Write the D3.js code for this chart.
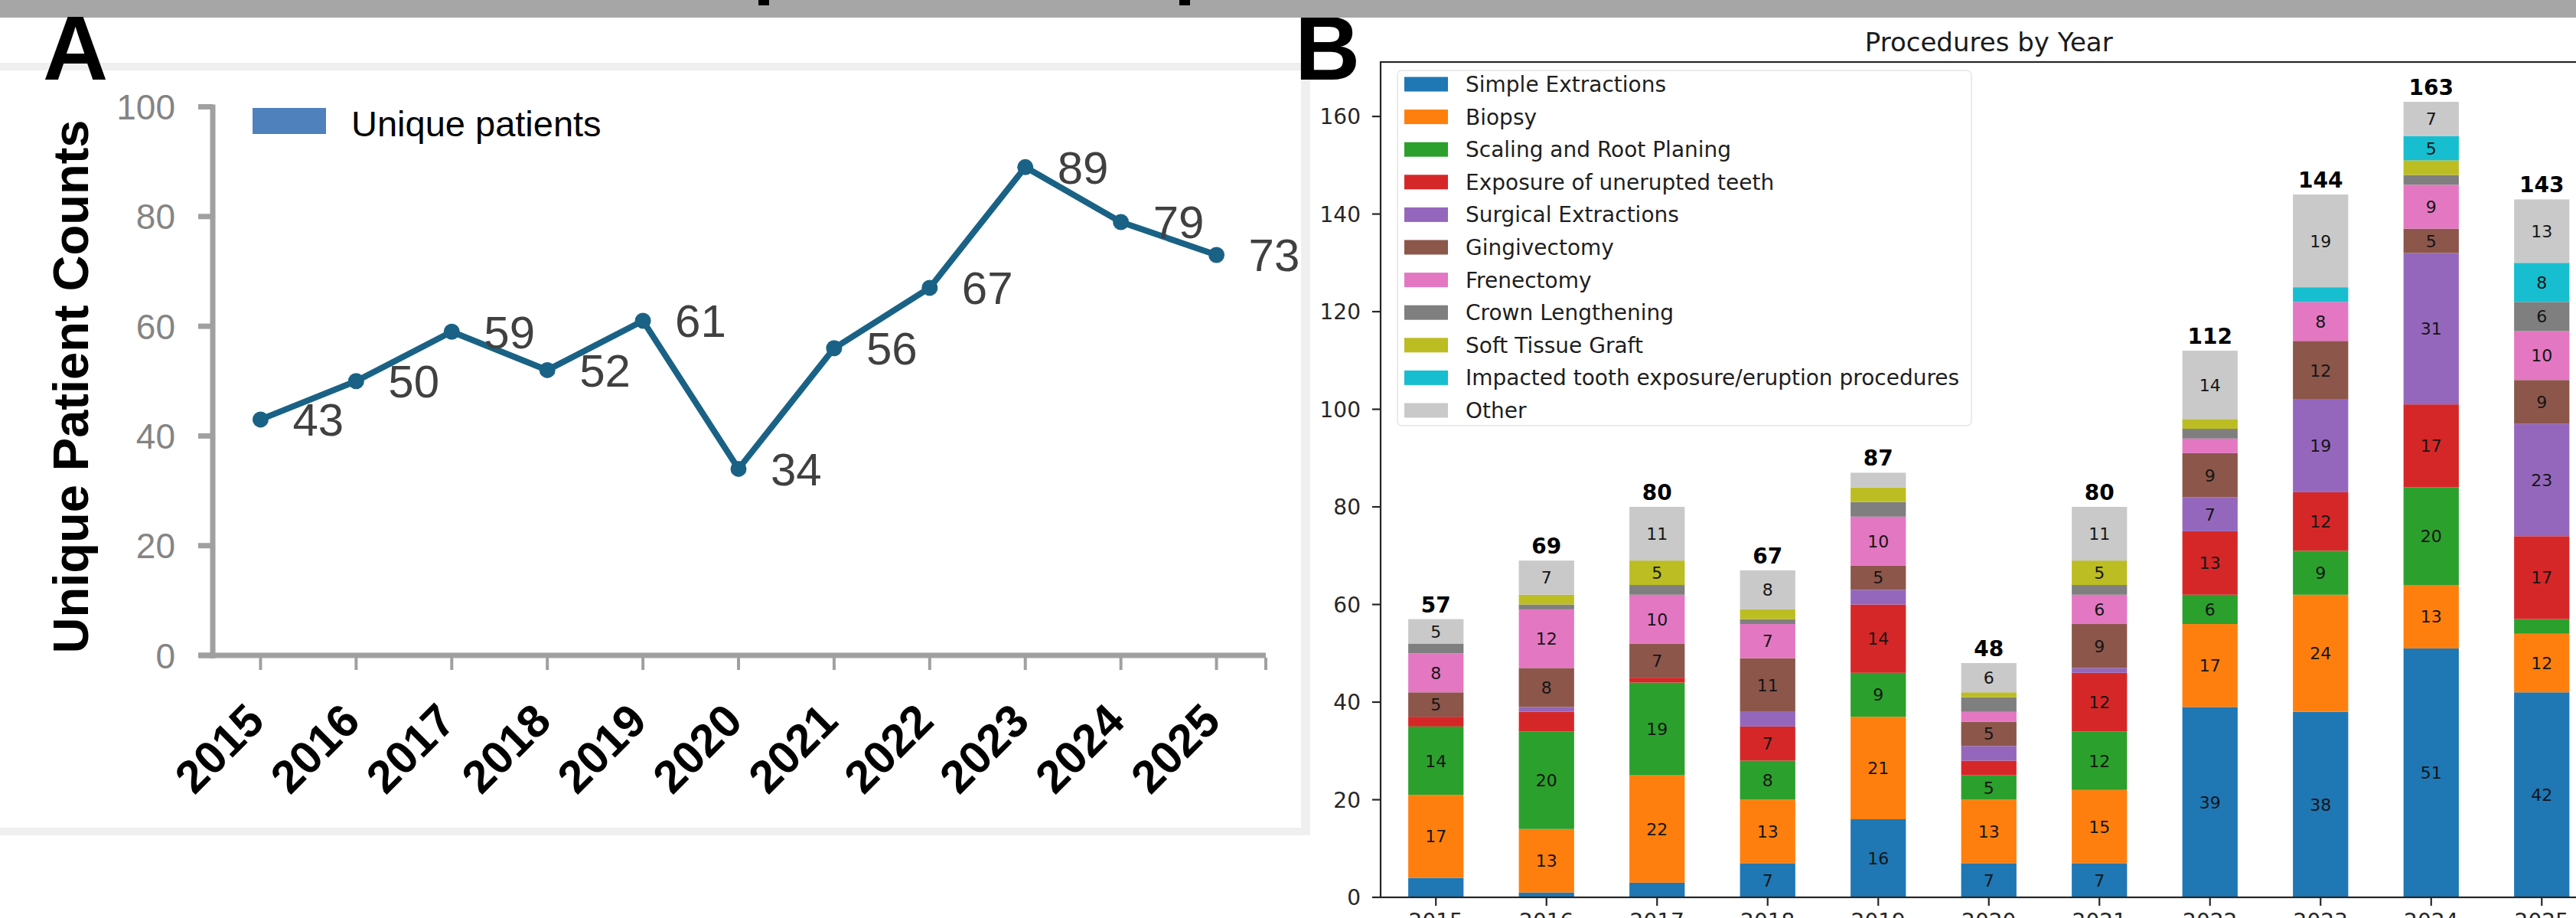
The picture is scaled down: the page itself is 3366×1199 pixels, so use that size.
<!DOCTYPE html>
<html>
<head>
<meta charset="utf-8">
<script src="https://cdn.jsdelivr.net/npm/d3@7"></script>
<style>
  html, body { margin: 0; padding: 0; background: #ffffff; }
  svg { display: block; }
</style>
</head>
<body>
<svg id="fig" width="3366" height="1199"></svg>
<script>
// ---------- data ----------
const years = ["2015", "2016", "2017", "2018", "2019", "2020", "2021", "2022", "2023", "2024", "2025"];

// Panel A: unique patients per year
const uniquePatients = [43, 50, 59, 52, 61, 34, 56, 67, 89, 79, 73];
const patientTicks = [0, 20, 40, 60, 80, 100];

// Panel B: procedures per year, stacked bottom to top
const procedureNames = [
  "Simple Extractions",
  "Biopsy",
  "Scaling and Root Planing",
  "Exposure of unerupted teeth",
  "Surgical Extractions",
  "Gingivectomy",
  "Frenectomy",
  "Crown Lengthening",
  "Soft Tissue Graft",
  "Impacted tooth exposure/eruption procedures",
  "Other"
];
const simpleExtractions   = [4, 1, 3, 7, 16, 7, 7, 39, 38, 51, 42];
const biopsy              = [17, 13, 22, 13, 21, 13, 15, 17, 24, 13, 12];
const scalingRootPlaning  = [14, 20, 19, 8, 9, 5, 12, 6, 9, 20, 3];
const exposureUnerupted   = [2, 4, 1, 7, 14, 3, 12, 13, 12, 17, 17];
const surgicalExtractions = [0, 1, 0, 3, 3, 3, 1, 7, 19, 31, 23];
const gingivectomy        = [5, 8, 7, 11, 5, 5, 9, 9, 12, 5, 9];
const frenectomy          = [8, 12, 10, 7, 10, 2, 6, 3, 8, 9, 10];
const crownLengthening    = [2, 1, 2, 1, 3, 3, 2, 2, 0, 2, 6];
const softTissueGraft     = [0, 2, 5, 2, 3, 1, 5, 2, 0, 3, 0];
const impactedExposure    = [0, 0, 0, 0, 0, 0, 0, 0, 3, 5, 8];
const otherProcedures     = [5, 7, 11, 8, 3, 6, 11, 14, 19, 7, 13];
const procedureTicks = [0, 20, 40, 60, 80, 100, 120, 140, 160];

const procedureSeries = [
  simpleExtractions, biopsy, scalingRootPlaning, exposureUnerupted,
  surgicalExtractions, gingivectomy, frenectomy, crownLengthening,
  softTissueGraft, impactedExposure, otherProcedures
];

// ---------- setup ----------
const W = 3366, H = 1199;
const svg = d3.select("#fig");
const fontA = "'Liberation Sans', Arial, Helvetica, sans-serif";
const fontB = "'DejaVu Sans', sans-serif";

svg.append("rect").attr("width", W).attr("height", H).attr("fill", "#ffffff");

// light frame around panel A
const frameA = svg.append("g").attr("fill", "#efefef");
frameA.append("rect").attr("x", 0).attr("y", 82).attr("width", 1712).attr("height", 10);
frameA.append("rect").attr("x", 0).attr("y", 1081).attr("width", 1712).attr("height", 10);
frameA.append("rect").attr("x", 1700).attr("y", 82).attr("width", 12).attr("height", 1009);

// ---------- Panel A: line chart ----------
const gA = svg.append("g");
const xA = d3.scaleBand().domain(years).range([278, 1652]);
const yA = d3.scaleLinear().domain([0, 100]).range([856, 139.5]);
const cxA = d => xA(d) + xA.bandwidth() / 2;
const axisGray = "#a0a0a0";

// axis lines
gA.append("line")
  .attr("x1", 278).attr("x2", 278)
  .attr("y1", yA(100) - 3).attr("y2", yA(0) + 4)
  .attr("stroke", axisGray).attr("stroke-width", 7);
gA.append("line")
  .attr("x1", 260).attr("x2", xA.range()[1] + 2)
  .attr("y1", yA(0)).attr("y2", yA(0))
  .attr("stroke", axisGray).attr("stroke-width", 7);

// y ticks + labels
gA.selectAll(".ytickA").data(patientTicks).join("rect")
  .attr("x", 259).attr("y", d => yA(d) - 3.5)
  .attr("width", 19).attr("height", 7)
  .attr("fill", axisGray);
gA.selectAll(".ylabA").data(patientTicks).join("text")
  .attr("x", 229).attr("y", d => yA(d) + 16.5)
  .attr("text-anchor", "end")
  .attr("font-family", fontA).attr("font-size", 46)
  .attr("fill", "#848484")
  .text(d => d);

// x ticks (category centres plus the axis end)
const xTickPosA = years.map(cxA).concat([xA.range()[1] + 2]);
gA.selectAll(".xtickA").data(xTickPosA).join("line")
  .attr("x1", d => d).attr("x2", d => d)
  .attr("y1", yA(0) + 3).attr("y2", yA(0) + 19)
  .attr("stroke", axisGray).attr("stroke-width", 4);

// rotated year labels
gA.selectAll(".xlabA").data(years).join("text")
  .attr("transform", d => `translate(${cxA(d) + 8},945) rotate(-45)`)
  .attr("text-anchor", "end")
  .attr("font-family", fontA).attr("font-weight", "bold").attr("font-size", 60)
  .attr("fill", "#000")
  .text(d => d);

// axis title
gA.append("text")
  .attr("transform", "translate(115,505) rotate(-90)")
  .attr("text-anchor", "middle")
  .attr("font-family", fontA).attr("font-weight", "bold").attr("font-size", 65)
  .attr("fill", "#000")
  .text("Unique Patient Counts");

// series line, markers and value labels
const lineColor = "#1a6285";
const patientPoints = years.map((y, i) => ({ year: y, value: uniquePatients[i] }));
gA.append("path")
  .datum(patientPoints)
  .attr("fill", "none")
  .attr("stroke", lineColor).attr("stroke-width", 8)
  .attr("stroke-linejoin", "round")
  .attr("d", d3.line().x(d => cxA(d.year)).y(d => yA(d.value)));
gA.selectAll(".ptA").data(patientPoints).join("circle")
  .attr("cx", d => cxA(d.year)).attr("cy", d => yA(d.value))
  .attr("r", 10.5).attr("fill", lineColor);
gA.selectAll(".vlabA").data(patientPoints).join("text")
  .attr("x", d => cxA(d.year) + 42).attr("y", d => yA(d.value) + 21.5)
  .attr("font-family", fontA).attr("font-size", 60)
  .attr("fill", "#404040")
  .text(d => d.value);

// legend
gA.append("rect").attr("x", 330).attr("y", 141).attr("width", 96).attr("height", 34).attr("fill", "#4f81bd");
gA.append("text")
  .attr("x", 459).attr("y", 178)
  .attr("font-family", fontA).attr("font-size", 47).attr("fill", "#000")
  .text("Unique patients");

// ---------- Panel B: stacked bar chart ----------
const gB = svg.append("g");
const rows = years.map((y, i) => {
  const r = { year: y };
  procedureNames.forEach((name, k) => { r[name] = procedureSeries[k][i]; });
  return r;
});
const totals = rows.map(r => d3.sum(procedureNames, n => r[n]));

const plotLeft = 1804, plotRight = plotLeft + 11 * 144.5, plotBottom = 1172, plotTop = 81;
const xB = d3.scaleBand().domain(years).range([plotLeft, plotRight]).paddingInner(0.5).paddingOuter(0.25);
const yB = d3.scaleLinear().domain([0, d3.max(totals) * 1.05]).range([plotBottom, plotTop]);
const color = d3.scaleOrdinal()
  .domain(procedureNames)
  .range(d3.schemeCategory10.concat(["#c9c9c9"]));

const stacked = d3.stack().keys(procedureNames)(rows);

const layers = gB.selectAll(".layer").data(stacked).join("g")
  .attr("fill", d => color(d.key));
layers.selectAll("rect").data(d => d).join("rect")
  .attr("x", d => xB(d.data.year))
  .attr("width", xB.bandwidth())
  .attr("y", d => yB(d[1]))
  .attr("height", d => yB(d[0]) - yB(d[1]));

// segment value labels (segments of 5 or more)
const segLabels = [];
stacked.forEach(layer => layer.forEach(d => {
  const v = d[1] - d[0];
  if (v >= 5) segLabels.push({ year: d.data.year, mid: (d[0] + d[1]) / 2, v });
}));
gB.selectAll(".seglab").data(segLabels).join("text")
  .attr("x", d => xB(d.year) + xB.bandwidth() / 2)
  .attr("y", d => yB(d.mid) + 8)
  .attr("text-anchor", "middle")
  .attr("font-family", fontB).attr("font-size", 22)
  .attr("fill", "#151515")
  .text(d => d.v);

// totals above bars
gB.selectAll(".totlab").data(years).join("text")
  .attr("x", d => xB(d) + xB.bandwidth() / 2)
  .attr("y", (d, i) => yB(totals[i]) - 9)
  .attr("text-anchor", "middle")
  .attr("font-family", fontB).attr("font-weight", "bold").attr("font-size", 28)
  .attr("fill", "#000")
  .text((d, i) => totals[i]);

// spines
const spine = "#262626";
gB.append("rect")
  .attr("x", plotLeft).attr("y", plotTop)
  .attr("width", plotRight - plotLeft).attr("height", plotBottom - plotTop)
  .attr("fill", "none").attr("stroke", spine).attr("stroke-width", 2.2);

// y ticks
gB.selectAll(".ytickB").data(procedureTicks).join("line")
  .attr("x1", plotLeft - 11).attr("x2", plotLeft)
  .attr("y1", d => yB(d)).attr("y2", d => yB(d))
  .attr("stroke", spine).attr("stroke-width", 2.2);
gB.selectAll(".ylabB").data(procedureTicks).join("text")
  .attr("x", plotLeft - 26).attr("y", d => yB(d) + 10)
  .attr("text-anchor", "end")
  .attr("font-family", fontB).attr("font-size", 28)
  .attr("fill", "#262626")
  .text(d => d);

// x ticks; the year labels sit at the lower edge of the figure
gB.selectAll(".xtickB").data(years).join("line")
  .attr("x1", d => xB(d) + xB.bandwidth() / 2).attr("x2", d => xB(d) + xB.bandwidth() / 2)
  .attr("y1", plotBottom).attr("y2", plotBottom + 11)
  .attr("stroke", spine).attr("stroke-width", 2.2);
gB.selectAll(".xlabB").data(years).join("text")
  .attr("x", d => xB(d) + xB.bandwidth() / 2).attr("y", 1213)
  .attr("text-anchor", "middle")
  .attr("font-family", fontB).attr("font-size", 28)
  .attr("fill", "#262626")
  .text(d => d);

// title
gB.append("text")
  .attr("x", (plotLeft + plotRight) / 2).attr("y", 67)
  .attr("text-anchor", "middle")
  .attr("font-family", fontB).attr("font-size", 34)
  .attr("fill", "#1a1a1a")
  .text("Procedures by Year");

// legend
const legB = gB.append("g");
legB.append("rect")
  .attr("x", 1826).attr("y", 92).attr("width", 750).attr("height", 464)
  .attr("rx", 6)
  .attr("fill", "#ffffff").attr("fill-opacity", 0.8)
  .attr("stroke", "#ebebeb").attr("stroke-width", 2);
const rowY = i => 110 + i * 42.6;
legB.selectAll(".lh").data(procedureNames).join("rect")
  .attr("x", 1835).attr("y", (d, i) => rowY(i) - 9.5)
  .attr("width", 57).attr("height", 19)
  .attr("fill", d => color(d));
legB.selectAll(".lt").data(procedureNames).join("text")
  .attr("x", 1915).attr("y", (d, i) => rowY(i) + 10)
  .attr("font-family", fontB).attr("font-size", 28)
  .attr("fill", "#1e1e1e")
  .text(d => d);

// ---------- panel letters and header strip ----------
svg.append("text")
  .attr("x", 1692).attr("y", 104)
  .attr("font-family", fontA).attr("font-weight", "bold").attr("font-size", 118)
  .attr("fill", "#000").text("B");

const header = svg.append("g");
header.append("rect").attr("x", 0).attr("y", 0).attr("width", W).attr("height", 23).attr("fill", "#a6a6a6");
header.append("rect").attr("x", 991).attr("y", 0).attr("width", 14).attr("height", 7).attr("fill", "#000");
header.append("rect").attr("x", 1541).attr("y", 0).attr("width", 14).attr("height", 7).attr("fill", "#000");

svg.append("text")
  .attr("x", 56).attr("y", 104)
  .attr("font-family", fontA).attr("font-weight", "bold").attr("font-size", 118)
  .attr("fill", "#000").text("A");
</script>
</body>
</html>
